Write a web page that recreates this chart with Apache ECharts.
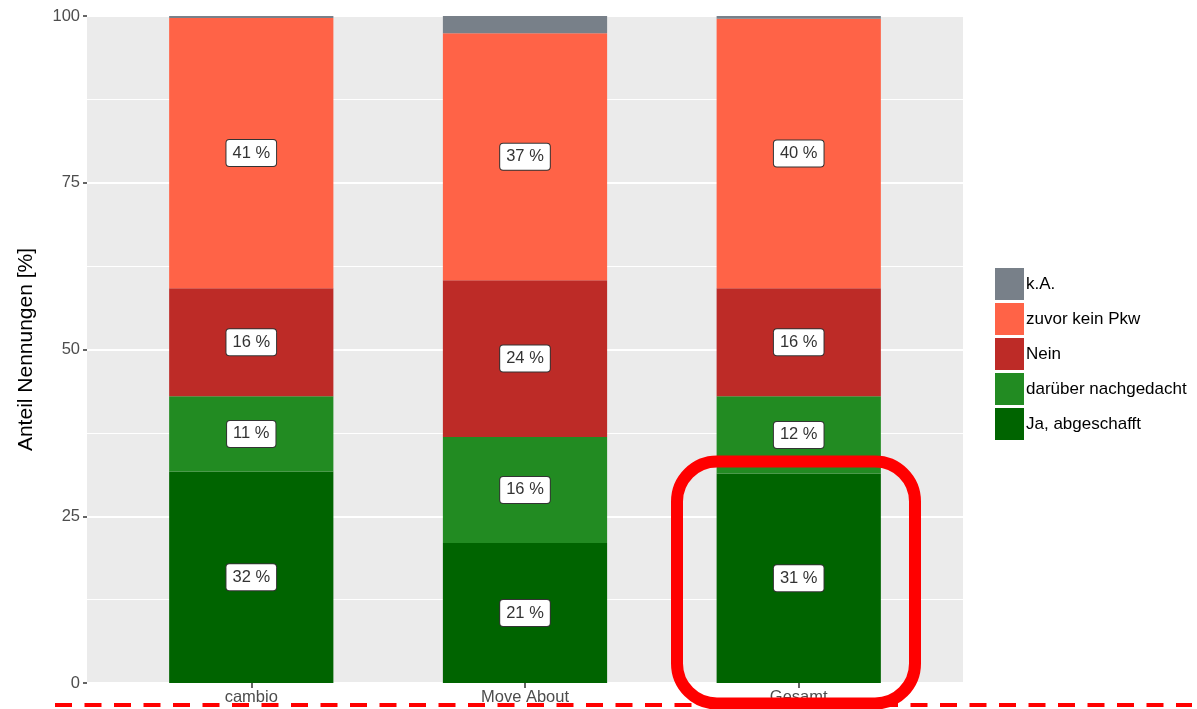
<!DOCTYPE html>
<html>
<head>
<meta charset="utf-8">
<script src="https://cdn.jsdelivr.net/npm/echarts@6/dist/echarts.min.js"></script>
<style>
  html, body { margin: 0; padding: 0; background: #fff; }
  #chart { width: 1197px; height: 709px; }
</style>
</head>
<body>
<div id="chart"></div>
<script>
  // Anteile je Gruppe, von unten nach oben gestapelt
  var categories = ['cambio', 'Move About', 'Gesamt']
  var yTicks = [0, 25, 50, 75, 100]
  var seriesNames = ['Ja, abgeschafft', 'darüber nachgedacht', 'Nein', 'zuvor kein Pkw', 'k.A.']
  var jaValues = [31.7, 21.0, 31.4]
  var nachgedachtValues = [11.3, 15.9, 11.6]
  var neinValues = [16.2, 23.5, 16.2]
  var zuvorValues = [40.5, 37.0, 40.4]
  var kaValues = [0.3, 2.6, 0.4]

  var colors = ['#006400', '#228B22', '#BD2B27', '#FF6347', '#788089']
  var font = '"Liberation Sans", Arial, Helvetica, sans-serif'

  var allValues = [jaValues, nachgedachtValues, neinValues, zuvorValues, kaValues]

  var series = seriesNames.map(function (name, i) {
    return {
      name: name,
      type: 'bar',
      stack: 'total',
      xAxisIndex: 1,
      yAxisIndex: 1,
      barWidth: '60%',
      itemStyle: { color: colors[i] },
      label: {
        show: true,
        position: 'inside',
        formatter: function (p) { return Math.round(p.value) + ' %' },
        color: '#333',
        fontFamily: font,
        fontSize: 16.5,
        backgroundColor: '#fff',
        borderColor: '#333',
        borderWidth: 1,
        borderRadius: 3,
        padding: [5, 6, 4, 6],
      },
      // kleine Anteile ohne Beschriftung
      data: allValues[i].map(function (v) {
        return { value: v, label: { show: v >= 5 } }
      }),
    }
  })

  var chart = echarts.init(document.getElementById('chart'))
  chart.setOption({
    animation: false,
    textStyle: { fontFamily: font },
    grid: [
      { left: 87, width: 876, top: 16, height: 667, show: true, backgroundColor: '#EBEBEB', borderWidth: 0 },
      { left: 114.4, width: 821.2, top: 16, height: 667 },
    ],
    legend: {
      orient: 'vertical',
      left: 995,
      top: 268,
      padding: 0,
      itemWidth: 29,
      itemHeight: 32,
      itemGap: 3,
      icon: 'rect',
      data: seriesNames.slice().reverse(),
      textStyle: { color: '#000', fontSize: 17, fontFamily: font, padding: [0, 0, 5, -3] },
    },
    xAxis: [
      { gridIndex: 0, type: 'value', min: 0, max: 1, show: false },
      {
        gridIndex: 1,
        type: 'category',
        data: categories,
        axisLine: { show: false },
        axisTick: { show: true, alignWithLabel: true, length: 5, lineStyle: { color: '#333', width: 1.5 } },
        axisLabel: { color: '#4D4D4D', fontSize: 16.5, margin: 6, fontFamily: font },
      },
    ],
    yAxis: [
      {
        gridIndex: 0,
        type: 'value',
        min: 0,
        max: 100,
        interval: 25,
        name: 'Anteil Nennungen [%]',
        nameLocation: 'middle',
        nameGap: 50,
        nameTextStyle: { color: '#000', fontSize: 21, fontFamily: font },
        axisLine: { show: false },
        axisTick: { show: true, length: 4, lineStyle: { color: '#333', width: 1.5 } },
        axisLabel: {
          color: '#4D4D4D',
          fontSize: 16.5,
          margin: 7,
          fontFamily: font,
          formatter: function (v) { return yTicks.indexOf(v) >= 0 ? String(v) : '' },
        },
        splitLine: { show: true, lineStyle: { color: '#fff', width: 2 } },
        minorTick: { show: false, splitNumber: 2 },
        minorSplitLine: { show: true, lineStyle: { color: '#fff', width: 1 } },
      },
      { gridIndex: 1, type: 'value', min: 0, max: 100, show: false },
    ],
    series: series,
    graphic: [
      {
        type: 'rect',
        z: 100,
        shape: { x: 677, y: 461.5, width: 238, height: 242, r: 40 },
        style: { fill: 'none', stroke: '#FF0000', lineWidth: 12 },
      },
      {
        type: 'line',
        z: 100,
        shape: { x1: 55, y1: 705, x2: 1192, y2: 705 },
        style: { stroke: '#FF0000', lineWidth: 4, lineDash: [17, 12.5] },
      },
    ],
  })
</script>
</body>
</html>
